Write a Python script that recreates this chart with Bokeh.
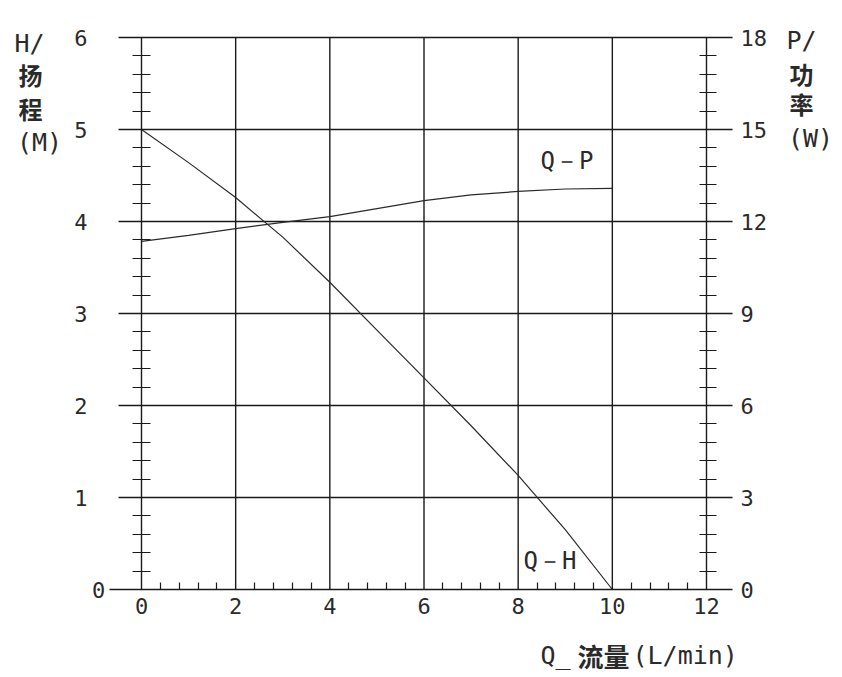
from bokeh.plotting import figure
from bokeh.models import Range1d, LinearAxis, FixedTicker, Label
from bokeh.embed import file_html
from bokeh.resources import INLINE

# ---- data ----
flow = [0, 1, 2, 3, 4, 5, 6, 7, 8, 9, 10]
head = [5.0, 4.64, 4.26, 3.83, 3.34, 2.82, 2.30, 1.78, 1.24, 0.65, 0.0]
power = [11.35, 11.55, 11.77, 11.97, 12.16, 12.42, 12.68, 12.87, 12.98, 13.06, 13.08]
x_ticks = [0, 2, 4, 6, 8, 10, 12]
h_ticks = [0, 1, 2, 3, 4, 5, 6]
p_ticks = [0, 3, 6, 9, 12, 15, 18]

# ---- layout (pixel geometry) ----
W, H = 842, 677
X0PX, XU = 141, 565 / 12.0   # pixel of x=0, px per unit
Y0PX, YU = 589, 92.0         # pixel of y=0, px per unit

def dx(px):
    return (px - X0PX) / XU

def dy(py):
    return (Y0PX - py) / YU

p_scale = p_ticks[-1] / h_ticks[-1]

p = figure(width=W, height=H, output_backend="svg", toolbar_location=None,
           x_range=Range1d(dx(0), dx(W)), y_range=Range1d(dy(H), dy(0)),
           x_axis_type=None, y_axis_type=None,
           min_border_left=0, min_border_right=0,
           min_border_top=0, min_border_bottom=0)
p.extra_y_ranges = {"p": Range1d(dy(H) * p_scale, dy(0) * p_scale)}
p.outline_line_color = None
p.background_fill_color = "white"
p.border_fill_color = "white"

LC = "#1a1a1a"
LW = 1.4
TXT = "#2a2a2a"
NUMFONT = "DejaVu Sans Mono"
CJK = "Noto Sans CJK SC"

# grid lines
hx0, hx1 = dx(118), dx(732)
for h in h_ticks[1:]:
    p.segment(x0=hx0, y0=h, x1=hx1, y1=h, line_color=LC, line_width=LW)
for x in x_ticks[1:-1]:
    p.segment(x0=x, y0=h_ticks[0], x1=x, y1=h_ticks[-1], line_color=LC, line_width=LW)

def style(ax):
    ax.axis_line_color = LC
    ax.axis_line_width = LW
    ax.major_tick_in = 0
    ax.major_tick_out = 0
    ax.minor_tick_line_color = LC
    ax.minor_tick_line_width = 1.2
    ax.major_label_text_font = NUMFONT
    ax.major_label_text_font_size = "22px"
    ax.major_label_text_color = TXT

# left axis (H)
h_minor = [round(i * 0.2, 2) for i in range(0, 31) if i % 5]
ax_l = LinearAxis(fixed_location=0, bounds=(h_ticks[0], h_ticks[-1]),
                  ticker=FixedTicker(ticks=h_ticks[1:], minor_ticks=h_minor))
style(ax_l)
ax_l.minor_tick_in = 9
ax_l.minor_tick_out = 9
ax_l.major_label_standoff = 45
p.add_layout(ax_l, "left")

# right axis (P)
p_minor = [round(i * 0.6, 2) for i in range(0, 31) if i % 5]
ax_r = LinearAxis(fixed_location=12, y_range_name="p", bounds=(p_ticks[0], p_ticks[-1]),
                  ticker=FixedTicker(ticks=p_ticks, minor_ticks=p_minor))
style(ax_r)
ax_r.minor_tick_in = 7
ax_r.minor_tick_out = 10
ax_r.major_label_standoff = 24
p.add_layout(ax_r, "right")

# bottom axis (Q)
x_minor = [round(i * 0.4, 2) for i in range(0, 31) if i % 5]
ax_b = LinearAxis(fixed_location=0, bounds=(dx(109), dx(732)),
                  ticker=FixedTicker(ticks=x_ticks, minor_ticks=x_minor))
style(ax_b)
ax_b.minor_tick_in = 7
ax_b.minor_tick_out = 0
ax_b.major_label_standoff = 8
p.add_layout(ax_b, "below")

# curves
p.line(flow, head, line_color="#2a2a2a", line_width=1.2)
p.line(flow, power, y_range_name="p", line_color="#2a2a2a", line_width=1.2)

def lab(text, px, py, align="left", font=NUMFONT, size="22px", bold=False):
    p.add_layout(Label(x=dx(px), y=dy(py), text=text, text_align=align,
                       text_baseline="middle", text_font=font, text_font_size=size,
                       text_font_style="bold" if bold else "normal", text_color=TXT))

# left "0" tick label sits closer to the axis
lab("0", 98, 589, align="center")

# curve names
lab("Q－P", 540, 160, size="24px")
lab("Q－H", 523, 560, size="24px")

# axis titles
lab("H/", 14, 43, size="25px")
lab("扬", 30, 74, align="center", font=CJK, size="24px", bold=True)
lab("程", 30, 108, align="center", font=CJK, size="24px", bold=True)
lab("(M)", 39, 142, align="center", size="25px")
lab("P/", 786, 40, size="25px")
lab("功", 801, 73, align="center", font=CJK, size="24px", bold=True)
lab("率", 801, 103, align="center", font=CJK, size="24px", bold=True)
lab("(W)", 810, 138, align="center", size="25px")
lab("Q_", 540, 655, size="25px")
lab("流量", 577, 655, font=CJK, size="26px", bold=True)
lab("(L/min)", 632, 655, size="25px")

open("out.html", "w").write(file_html(p, INLINE))
